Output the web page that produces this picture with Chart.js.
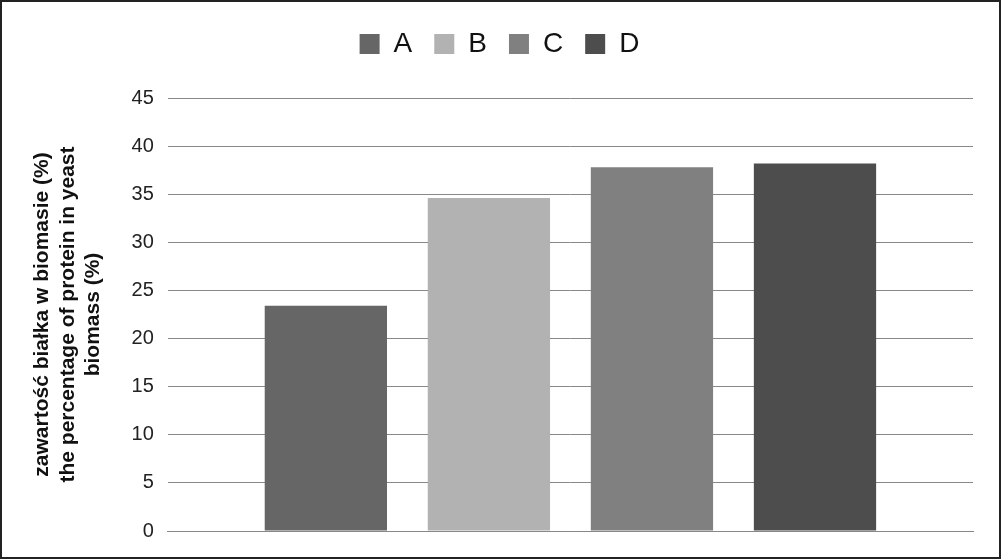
<!DOCTYPE html>
<html>
<head>
<meta charset="utf-8">
<script src="https://cdn.jsdelivr.net/npm/chart.js@4"></script>
<style>
  body { margin: 0; background: #fff; }
  #wrap { position: absolute; left: 0; top: 0; width: 997px; height: 555px; border: 2px solid #222; }
</style>
</head>
<body>
<div id="wrap"><canvas id="proteinChart" width="997" height="555"></canvas></div>
<script>
// Protein content in yeast biomass
const SERIES_NAMES = ['A', 'B', 'C', 'D'];
const SERIES_VALUES = [23.4, 34.6, 37.8, 38.2];
const SERIES_COLORS = ['#666666', '#b2b2b2', '#808080', '#4d4d4d'];
const Y_TITLE = ['zawartość białka w biomasie (%)', 'the percentage of protein in yeast', 'biomass (%)'];

// extra space under the legend
const legendSpacer = {
    id: 'legendSpacer',
    beforeInit(chart) {
        const fit = chart.legend.fit;
        chart.legend.fit = function () {
            fit.bind(chart.legend)();
            this.height += 30;
        };
    }
};

const ctx = document.getElementById('proteinChart').getContext('2d');
new Chart(ctx, {
    type: 'bar',
    data: {
        labels: [''],
        datasets: SERIES_NAMES.map((name, i) => ({
            label: name,
            data: [SERIES_VALUES[i]],
            backgroundColor: SERIES_COLORS[i]
        }))
    },
    options: {
        responsive: false,
        animation: false,
        layout: { padding: { top: 6, right: 26, bottom: 18, left: 24 } },
        datasets: { bar: { categoryPercentage: 0.81, barPercentage: 0.75 } },
        scales: {
            y: {
                min: 0, max: 45,
                ticks: { stepSize: 5, color: '#222', font: { family: 'Liberation Sans', size: 20 }, padding: 14 },
                grid: { color: '#888', drawTicks: false },
                border: { display: false },
                title: {
                    display: true, text: Y_TITLE, color: '#111',
                    font: { family: 'Liberation Sans', size: 21, weight: 'bold' }, padding: { bottom: 12 }
                }
            },
            x: {
                ticks: { display: false },
                grid: { display: false },
                border: { color: '#888' }
            }
        },
        plugins: {
            legend: {
                position: 'top',
                labels: {
                    color: '#111', boxWidth: 20, boxHeight: 20, padding: 22,
                    font: { family: 'Liberation Sans', size: 28 }
                }
            },
            tooltip: { enabled: false }
        }
    },
    plugins: [legendSpacer]
});
</script>
</body>
</html>
